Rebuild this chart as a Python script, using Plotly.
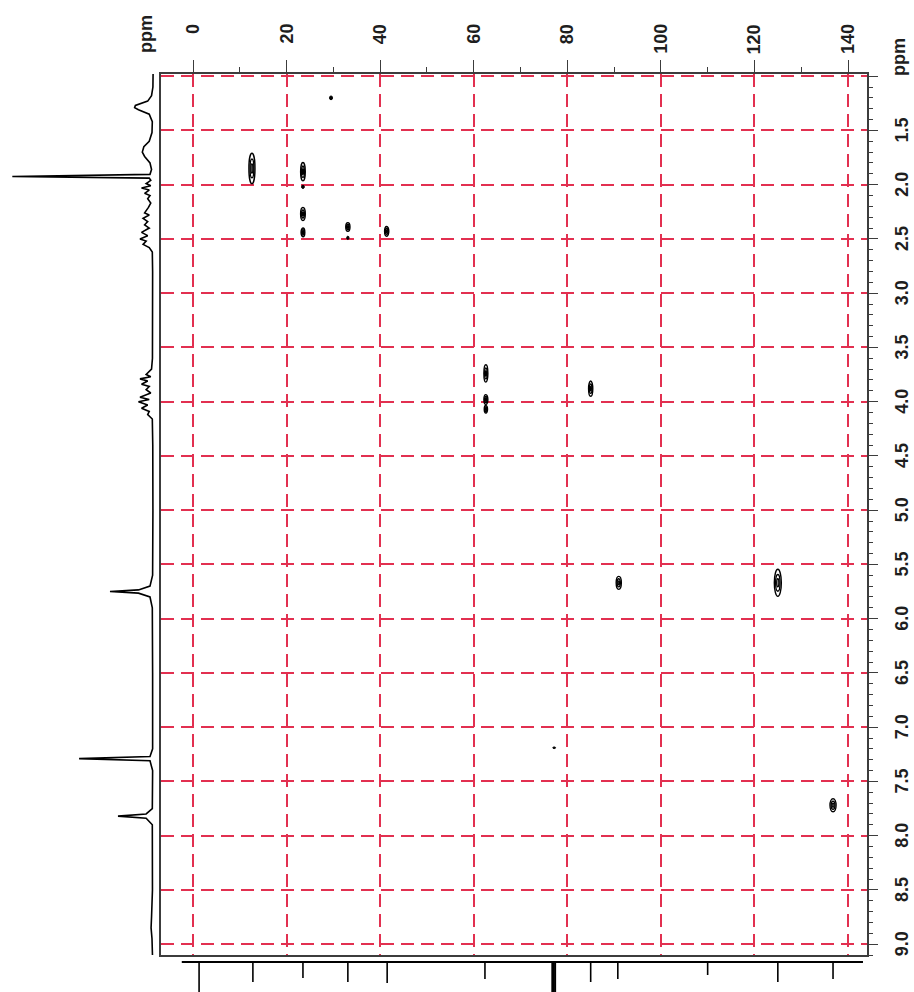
import plotly.graph_objects as go

W, H = 914, 992

# ---------------- data ----------------
# HSQC cross peaks: 13C shift, 1H shift, extent in 1H (ppm), extent in 13C (ppm)
peak_c13 = [12.6, 23.5, 23.5, 23.5, 23.5, 33.1, 33.1, 41.4, 29.5, 62.6, 62.6, 62.6, 85.0, 91.0, 125.0, 136.8, 77.2]
peak_h1 = [1.85, 1.88, 2.02, 2.27, 2.44, 2.39, 2.49, 2.43, 1.20, 3.74, 3.98, 4.07, 3.88, 5.67, 5.67, 7.72, 7.19]
peak_h1_span = [0.28, 0.17, 0.03, 0.12, 0.08, 0.08, 0.03, 0.09, 0.035, 0.16, 0.09, 0.07, 0.14, 0.12, 0.25, 0.12, 0.015]
peak_c13_span = [1.3, 1.0, 0.6, 1.0, 0.8, 0.9, 0.5, 0.9, 0.65, 0.85, 0.85, 0.7, 0.9, 1.1, 1.5, 1.3, 0.6]

# 13C projection (sticks): shift and relative height
c13_shift = [1.3, 12.8, 23.5, 33.1, 41.5, 62.4, 85.0, 90.8, 110.0, 125.0, 136.8]
c13_height = [34, 20, 16, 20, 21, 17, 20, 17, 13, 20, 17]
solvent_shift = [76.8, 77.1, 77.4]
solvent_height = [60, 60, 60]

# 1H projection trace (ppm, intensity)
h1_proj_ppm = [0.98, 1.10, 1.18, 1.23, 1.27, 1.29, 1.31, 1.35, 1.42, 1.52, 1.60, 1.65, 1.70, 1.74,
               1.80, 1.86, 1.905, 1.925, 1.94, 1.96, 1.99, 2.01, 2.03, 2.05, 2.08, 2.10, 2.13, 2.17,
               2.21, 2.26, 2.28, 2.31, 2.34, 2.37, 2.40, 2.44, 2.47, 2.50, 2.52, 2.55, 2.58, 2.62,
               2.80, 3.20, 3.60, 3.70, 3.75, 3.77, 3.79, 3.81, 3.84, 3.86, 3.89, 3.92, 3.96, 3.98,
               4.00, 4.03, 4.06, 4.09, 4.12, 4.16, 4.40, 5.00, 5.60, 5.70, 5.735, 5.75, 5.765, 5.80,
               5.90, 6.50, 7.20, 7.27, 7.29, 7.31, 7.40, 7.75, 7.80, 7.82, 7.84, 7.90, 8.50, 8.75,
               8.85, 8.95, 9.10]
h1_proj_int = [0.5, 0.6, 1.5, 4.0, 12.0, 12.5, 10.0, 3.0, 1.0, 1.2, 3.0, 6.5, 7.5, 6.0,
               2.5, 1.5, 2.5, 92.0, 3.0, 2.0, 5.0, 2.0, 8.0, 3.0, 6.0, 2.5, 4.0, 2.0,
               3.5, 6.0, 3.0, 7.0, 4.0, 6.0, 3.0, 8.0, 4.0, 9.0, 5.0, 7.0, 3.0, 1.0,
               0.8, 0.7, 0.9, 1.5, 5.0, 2.0, 9.0, 4.0, 8.0, 3.0, 5.0, 2.0, 9.0, 3.0,
               10.0, 4.0, 8.0, 3.0, 4.0, 1.0, 0.7, 0.6, 0.8, 2.5, 10.0, 28.5, 10.0, 2.5,
               1.0, 0.8, 0.8, 2.5, 48.6, 2.5, 0.8, 1.0, 5.0, 23.3, 5.0, 1.0, 0.9, 1.5,
               1.8, 1.2, 0.9]

# tick labels
c13_ticks = [0, 20, 40, 60, 80, 100, 120, 140]
c13_tick_labels = ["0", "20", "40", "60", "80", "100", "120", "140"]
h1_ticks = [1.5, 2.0, 2.5, 3.0, 3.5, 4.0, 4.5, 5.0, 5.5, 6.0, 6.5, 7.0, 7.5, 8.0, 8.5, 9.0]
h1_tick_labels = ["1.5", "2.0", "2.5", "3.0", "3.5", "4.0", "4.5", "5.0", "5.5", "6.0",
                  "6.5", "7.0", "7.5", "8.0", "8.5", "9.0"]
axis_unit = "ppm"

# ---------------- layout geometry ----------------
def px_x(p):
    return p / W

def px_y(p):
    return 1 - p / H

X_RANGE = [-6.84, 144.06]
Y_RANGE = [9.10, 0.98]
main_xdom = [px_x(161), px_x(867)]
main_ydom = [px_y(955), px_y(74)]

FRAME = "#3c3c3c"
GRID = "rgb(226,48,80)"
FONT = dict(family="Liberation Sans, Arial, sans-serif", size=18, color="#1e1e1e", weight=700)

fig = go.Figure()

# 1H projection on the left
fig.add_trace(go.Scatter(x=h1_proj_int, y=h1_proj_ppm, mode="lines",
                         line=dict(color="black", width=1.6), xaxis="x2", yaxis="y4",
                         hoverinfo="skip", showlegend=False))

# 13C projection at the bottom
base_x = [-2.4, 143.2]
fig.add_trace(go.Scatter(x=base_x, y=[0, 0], mode="lines",
                         line=dict(color="black", width=1.8), xaxis="x3", yaxis="y3",
                         hoverinfo="skip", showlegend=False))
sx, sy = [], []
for c, h in zip(c13_shift, c13_height):
    sx += [c, c, None]
    sy += [0, h, None]
fig.add_trace(go.Scatter(x=sx, y=sy, mode="lines", line=dict(color="black", width=1.6),
                         xaxis="x3", yaxis="y3", hoverinfo="skip", showlegend=False))
vx, vy = [], []
for c, h in zip(solvent_shift, solvent_height):
    vx += [c, c, None]
    vy += [0, h, None]
fig.add_trace(go.Scatter(x=vx, y=vy, mode="lines", line=dict(color="black", width=2.0),
                         xaxis="x3", yaxis="y3", hoverinfo="skip", showlegend=False))

# invisible trace to create main subplot
fig.add_trace(go.Scatter(x=peak_c13, y=peak_h1, mode="markers", marker=dict(size=1, opacity=0),
                         xaxis="x", yaxis="y", hoverinfo="skip", showlegend=False))

# cross peaks as contour rings
shapes = []
for c, h, hs, cs in zip(peak_c13, peak_h1, peak_h1_span, peak_c13_span):
    if hs < 0.05:
        shapes.append(dict(type="circle", xref="x", yref="y", x0=c - cs / 2, x1=c + cs / 2,
                           y0=h - hs / 2, y1=h + hs / 2, line=dict(color="black", width=1),
                           fillcolor="black"))
    else:
        for f in (1.0, 0.62, 0.3):
            shapes.append(dict(type="circle", xref="x", yref="y",
                               x0=c - cs * f / 2, x1=c + cs * f / 2,
                               y0=h - hs * f / 2, y1=h + hs * f / 2,
                               line=dict(color="black", width=1.4)))

annotations = []
for v, t in zip(c13_ticks, c13_tick_labels):
    annotations.append(dict(x=v, xref="x", y=px_y(22), yref="paper", text=t, showarrow=False,
                            textangle=-90, xanchor="center", yanchor="top", font=FONT))
for v, t in zip(h1_ticks, h1_tick_labels):
    annotations.append(dict(x=px_x(902), xref="paper", y=v, yref="y", text=t, showarrow=False,
                            textangle=-90, xanchor="center", yanchor="middle", font=FONT))
annotations.append(dict(x=px_x(146), xref="paper", y=px_y(34), yref="paper", text=axis_unit,
                        showarrow=False, textangle=-90, xanchor="center", yanchor="middle", font=FONT))
annotations.append(dict(x=px_x(899), xref="paper", y=px_y(57), yref="paper", text=axis_unit,
                        showarrow=False, textangle=-90, xanchor="center", yanchor="middle", font=FONT))

fig.update_layout(
    width=W, height=H, margin=dict(l=0, r=0, t=0, b=0),
    paper_bgcolor="white", plot_bgcolor="white",
    showlegend=False, shapes=shapes, annotations=annotations,
    xaxis=dict(domain=main_xdom, range=X_RANGE, side="top", anchor="y",
               showline=True, linecolor=FRAME, linewidth=1.6, mirror=True,
               ticks="outside", ticklen=12, tickwidth=1.4, tickcolor=FRAME,
               tick0=0, dtick=20, showticklabels=False, zeroline=False,
               showgrid=True, gridcolor=GRID, gridwidth=1.6, griddash="13px,7px",
               minor=dict(ticks="outside", ticklen=5, tickwidth=1.2, tickcolor=FRAME,
                          tick0=0, dtick=10, showgrid=False)),
    yaxis=dict(domain=main_ydom, range=Y_RANGE, side="right", anchor="x",
               showline=True, linecolor=FRAME, linewidth=1.6, mirror=True,
               ticks="outside", ticklen=9, tickwidth=1.4, tickcolor=FRAME,
               tick0=0, dtick=0.5, showticklabels=False, zeroline=False,
               showgrid=True, gridcolor=GRID, gridwidth=1.6, griddash="13px,7px",
               minor=dict(ticks="outside", ticklen=4, tickwidth=1.1, tickcolor=FRAME,
                          tick0=0, dtick=0.1, showgrid=False)),
    xaxis2=dict(domain=[0, px_x(160)], range=[100, -4], anchor="y4", visible=False),
    yaxis4=dict(domain=main_ydom, range=Y_RANGE, anchor="x2", visible=False),
    xaxis3=dict(domain=main_xdom, range=X_RANGE, anchor="y3", visible=False),
    yaxis3=dict(domain=[0, px_y(957)], range=[30, -5], anchor="x3", visible=False),
)

fig.write_html("out.html", config={"displayModeBar": False},
               post_script="document.body.style.margin='0';document.body.style.overflow='hidden';")
